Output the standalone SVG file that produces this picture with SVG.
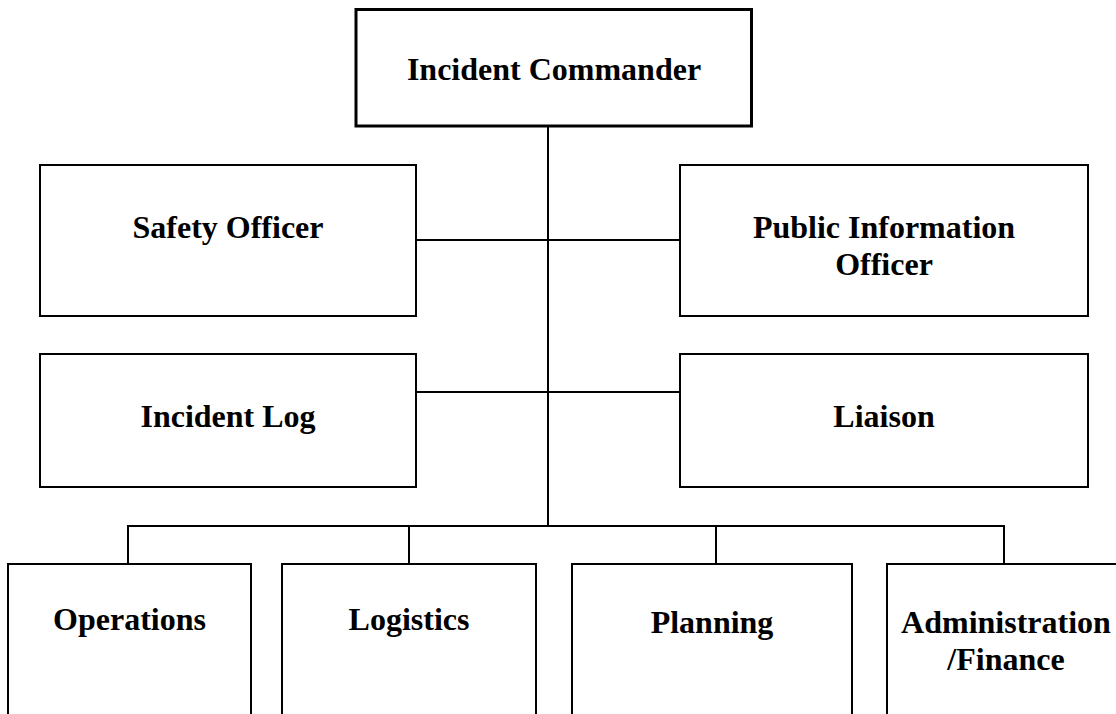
<svg xmlns="http://www.w3.org/2000/svg" width="1116" height="714" viewBox="0 0 1116 714">
<style>
.box{fill:#fff;stroke:#000;stroke-width:2}
.box3{fill:#fff;stroke:#000;stroke-width:3}
.lbl{font-family:"Liberation Serif","Times New Roman",serif;font-weight:bold;font-size:32px;fill:#000;text-anchor:middle}
.conn{stroke:#000;stroke-width:2;fill:none}
</style>
<rect width="1116" height="714" fill="#fff"/>
<g id="connectors">
<line class="conn" x1="548" y1="126" x2="548" y2="526"/>
<line class="conn" x1="416" y1="240" x2="680" y2="240"/>
<line class="conn" x1="416" y1="392" x2="680" y2="392"/>
<line class="conn" x1="127" y1="526" x2="1005" y2="526"/>
<line class="conn" x1="128" y1="526" x2="128" y2="564"/>
<line class="conn" x1="409" y1="526" x2="409" y2="564"/>
<line class="conn" x1="716" y1="526" x2="716" y2="564"/>
<line class="conn" x1="1004" y1="526" x2="1004" y2="564"/>
</g>
<g id="incident-commander">
<rect class="box3" x="356" y="9.5" width="395.5" height="116.5"/>
<text class="lbl" x="554" y="80">Incident Commander</text>
</g>
<g id="safety-officer">
<rect class="box" x="40" y="165" width="376" height="151"/>
<text class="lbl" x="228" y="238">Safety Officer</text>
</g>
<g id="public-information-officer">
<rect class="box" x="680" y="165" width="408" height="151"/>
<text class="lbl" x="884" y="238">Public Information</text>
<text class="lbl" x="884" y="275">Officer</text>
</g>
<g id="incident-log">
<rect class="box" x="40" y="354" width="376" height="133"/>
<text class="lbl" x="228" y="427">Incident Log</text>
</g>
<g id="liaison">
<rect class="box" x="680" y="354" width="408" height="133"/>
<text class="lbl" x="884" y="427">Liaison</text>
</g>
<g id="operations">
<rect class="box" x="8" y="564" width="243" height="170"/>
<text class="lbl" x="129.5" y="630">Operations</text>
</g>
<g id="logistics">
<rect class="box" x="282" y="564" width="254" height="170"/>
<text class="lbl" x="409" y="630">Logistics</text>
</g>
<g id="planning">
<rect class="box" x="572" y="564" width="280" height="170"/>
<text class="lbl" x="712" y="633">Planning</text>
</g>
<g id="administration-finance">
<rect class="box" x="887" y="564" width="240" height="170"/>
<text class="lbl" x="1006" y="633">Administration</text>
<text class="lbl" x="1006" y="670">/Finance</text>
</g>
</svg>
